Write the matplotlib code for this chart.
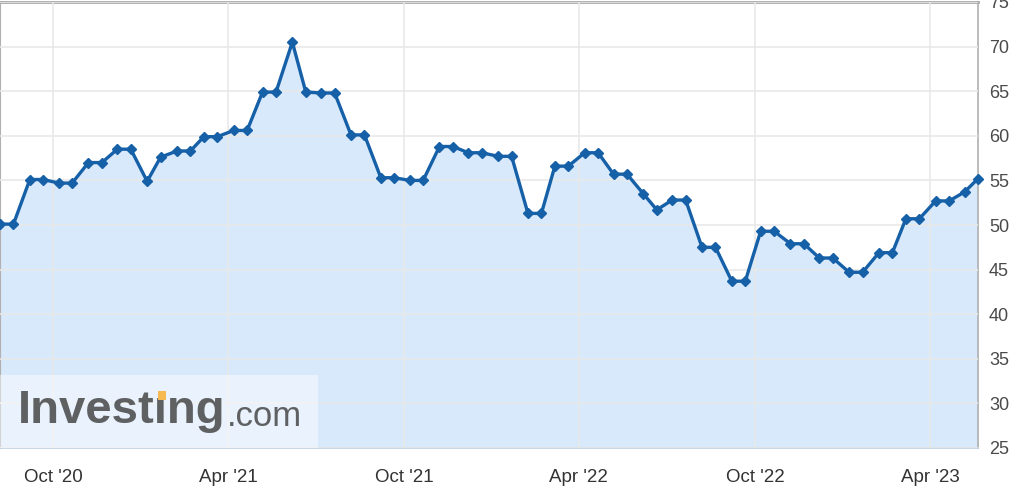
import pandas as pd
import numpy as np
import matplotlib
matplotlib.use('Agg')
import matplotlib.pyplot as plt
import matplotlib.dates as mdates
from matplotlib.patches import Rectangle

plt.rcParams['font.family'] = ['Liberation Sans', 'DejaVu Sans']

# ===数据 (semi-monthly readings)
start_date = '2020-08-01'
n_points = 68
values = [50.1, 50.1, 55.1, 55.1, 54.7, 54.7, 57.0, 57.0, 58.5, 58.5,
          54.9, 57.6, 58.3, 58.3, 59.9, 59.9, 60.6, 60.6, 64.9, 64.9,
          70.5, 64.9, 64.8, 64.8, 60.1, 60.1, 55.3, 55.3, 55.0, 55.0,
          58.8, 58.8, 58.1, 58.1, 57.7, 57.7, 51.3, 51.3, 56.6, 56.6,
          58.1, 58.1, 55.7, 55.7, 53.5, 51.7, 52.8, 52.8, 47.5, 47.5,
          43.7, 43.7, 49.3, 49.3, 47.9, 47.9, 46.3, 46.3, 44.7, 44.7,
          46.9, 46.9, 50.7, 50.7, 52.7, 52.7, 53.7, 55.2]
y_ticks = [25, 30, 35, 40, 45, 50, 55, 60, 65, 70, 75]

dates = pd.date_range(start_date, periods=n_points, freq='SMS') + pd.Timedelta(days=6)

line_color = '#1660a8'
fill_color = '#d8e9fc'
grid_color = '#e8e8e8'
text_color = '#4a4a4a'

# ===画图
fig = plt.figure(figsize=(10.24, 4.97), dpi=100)
ax = fig.add_axes([0, 49 / 497, 978 / 1024, 446 / 497])

ax.fill_between(dates, values, 25, color=fill_color, zorder=1, linewidth=0)
ax.plot(dates, values, color=line_color, linewidth=2.4, marker='D',
        markersize=5.5, zorder=3, clip_on=False)

ax.set_xlim(dates[0], dates[-1])
ax.set_ylim(25, 75)
ax.set_yticks(y_ticks)
ax.yaxis.tick_right()
ax.tick_params(axis='y', length=0, pad=8, labelsize=13, labelcolor=text_color)
ax.tick_params(axis='x', length=0, pad=15, labelsize=13.5, labelcolor='#333333')

ax.xaxis.set_major_locator(mdates.MonthLocator(bymonth=[4, 10]))
ax.xaxis.set_major_formatter(mdates.DateFormatter("%b '%y"))

ax.grid(True, color=grid_color, linewidth=1.3, zorder=2)
ax.set_axisbelow(False)
for gl in ax.get_xgridlines() + ax.get_ygridlines():
    gl.set_zorder(2)
    gl.set_alpha(0.9)

ax.spines['top'].set_color('#a8a8a8')
ax.spines['top'].set_linewidth(2)
ax.spines['left'].set_color('#b0b0b0')
ax.spines['right'].set_color('#b0b0b0')
ax.spines['right'].set_linewidth(1.2)
ax.spines['bottom'].set_color('#c3d2e2')
ax.spines['bottom'].set_linewidth(1.2)

# Investing.com 水印 (dotless i, orange dot drawn separately)
fig.patches.append(Rectangle((0, 49 / 497), 318 / 1024, 73 / 497, transform=fig.transFigure,
                             facecolor='white', alpha=0.45, edgecolor='none', zorder=5))
logo_x = 18 / 1024
logo_y = (497 - 411) / 497
t1 = fig.text(logo_x, logo_y, 'Invest\u0131ng', fontsize=34, fontweight='bold',
              color='#5e6062', va='center', ha='left', zorder=6)
fig.canvas.draw()
bb = t1.get_window_extent()
fig.text(bb.x1 / 1024 + 1 / 1024, (497 - 417) / 497, '.com', fontsize=25, color='#5e6062',
         va='center', ha='left', zorder=6)
tmp = fig.text(logo_x, logo_y, 'Invest', fontsize=34, fontweight='bold', va='center', ha='left')
fig.canvas.draw()
x_i = tmp.get_window_extent().x1
tmp.remove()
fig.patches.append(Rectangle(((x_i + 3) / 1024, (497 - 400) / 497), 8 / 1024, 9 / 497,
                             transform=fig.transFigure, facecolor='#f6b94f',
                             edgecolor='none', zorder=7))

fig.savefig('out.png', dpi=100)
